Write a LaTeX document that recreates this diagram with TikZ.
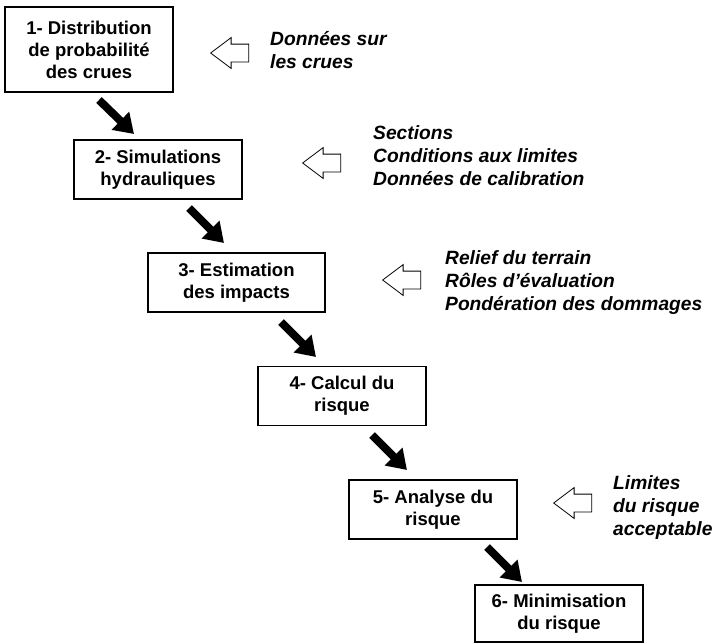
\documentclass[tikz,border=0pt]{standalone}
\usepackage{fontspec}
\setmainfont{Liberation Sans}
\usetikzlibrary{arrows.meta}
\usetikzlibrary{shapes.arrows}
\tikzset{
        % Steps of the method
        box_step/.style={rectangle, draw=black, line width=1.6pt, align=center, inner sep=0pt,
                minimum width=168pt, minimum height=59pt, font=\bfseries\fontsize{18.5}{22}\selectfont},
        % Data entering a step
        text_input/.style={anchor=west, align=left, inner sep=0pt, font=\bfseries\itshape\fontsize{19.2}{23}\selectfont},
        % Hollow arrows
        arrow_input/.style={single arrow, shape border rotate=180, anchor=tip, draw=black, line width=0.8pt, fill=white,
                inner xsep=0pt, inner ysep=8.5pt, minimum height=38pt, single arrow head extend=6.5pt,
                single arrow tip angle=74},
        % Black arrows between steps
        arrow_flow/.style={line width=8pt, -{Triangle[width=24pt,length=19pt]}}
}
\begin{document}
\begin{tikzpicture}[x=1pt, y=-1pt]
    \useasboundingbox (0,0) rectangle (715,643);
    \node[box_step, minimum height=85pt] (b1) at (89,49.5) {1- Distribution\\de probabilité\\des crues};
    \node[box_step] (b2) at (158,169.5) {2- Simulations\\hydrauliques};
    \node[box_step, minimum width=177pt] (b3) at (236.5,282.5) {3- Estimation\\des impacts};
    \node[box_step] (b4) at (342,396) {4- Calcul du\\risque};
    \node[box_step] (b5) at (433,509.5) {5- Analyse du\\risque};
    \node[box_step, minimum height=57pt] (b6) at (559,613.5) {6- Minimisation\\du risque};

    \node[arrow_input] (i1) at (210,53) {};
    \node[arrow_input] (i2) at (302,163) {};
    \node[arrow_input] (i3) at (382,280) {};
    \node[arrow_input] (i4) at (553,503) {};

    \node[text_input] (t1) at (270,50.5) {Données sur\\les crues};
    \node[text_input] (t2) at (373,156) {Sections\\Conditions aux limites\\Données de calibration};
    \node[text_input] (t3) at (445,282.5) {Relief du terrain\\Rôles d’évaluation\\Pondération des dommages};
    \node[text_input] (t4) at (613,507.5) {Limites\\du risque\\acceptable};

    \coordinate (s1) at (99,100);   \coordinate (e1) at (134,134);
    \coordinate (s2) at (189,208);  \coordinate (e2) at (224,243);
    \coordinate (s3) at (281,322);  \coordinate (e3) at (316,357);
    \coordinate (s4) at (372,435);  \coordinate (e4) at (407,470);
    \coordinate (s5) at (487,547);  \coordinate (e5) at (522,582);
    \foreach \i in {1,...,5}
        \draw[arrow_flow] (s\i) -- (e\i);
\end{tikzpicture}
\end{document}
